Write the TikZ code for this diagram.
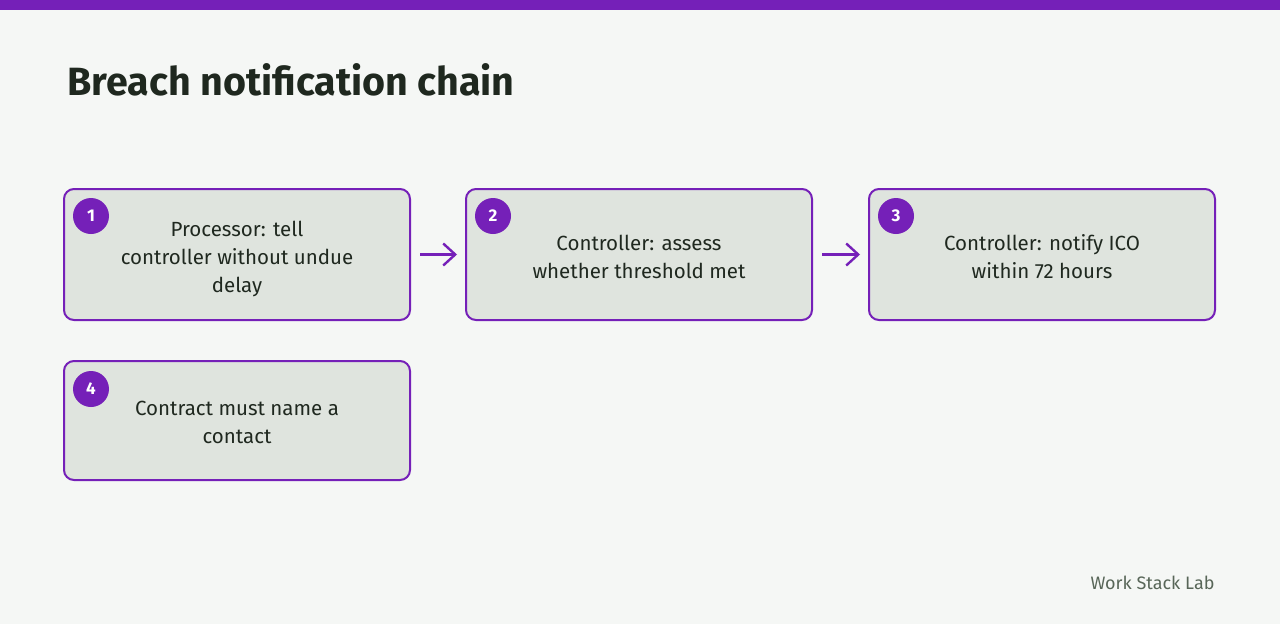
\documentclass[tikz,border=0pt]{standalone}
\usepackage{fontspec}
\setmainfont{Fira Sans}
\usetikzlibrary{arrows.meta, positioning}
\definecolor{chainpurple}{RGB}{117, 32, 184}
\definecolor{pagebg}{RGB}{245, 247, 245}
\definecolor{boxfill}{RGB}{223, 228, 222}
\definecolor{inkdark}{RGB}{31, 40, 31}
\definecolor{footgray}{RGB}{88, 102, 88}

\begin{document}
\begin{tikzpicture}[x=1pt, y=-1pt,
  stepbox/.style={draw=chainpurple, line width=2pt, fill=boxfill, rounded corners=10pt,
    minimum width=346pt, minimum height=131pt, inner sep=0pt},
  steptext/.style={align=center, text=inkdark, font=\fontsize{20.5}{28}\selectfont, inner sep=0pt},
  badge/.style={circle, fill=chainpurple, minimum size=36pt, inner sep=0pt, text=white,
    font=\fontsize{17}{17}\selectfont\bfseries},
  chainarrow/.style={-{Straight Barb[length=12pt, width=22pt]}, line width=2.4pt, chainpurple}]
  \useasboundingbox (0,0) rectangle (1280,624);
  \fill[pagebg] (0,0) rectangle (1280,624);
  \fill[chainpurple] (0,0) rectangle (1280,10);

  \node[anchor=base west, text=inkdark, font=\fontsize{39.4}{40}\selectfont\bfseries] (title) at (64,95) {Breach notification chain};

  % boxes
  \node[stepbox] (s1) at (237,254.5) {};
  \node[stepbox] (s2) at (639,254.5) {};
  \node[stepbox] (s3) at (1042,254.5) {};
  \node[stepbox, minimum height=119pt] (s4) at (237,420.5) {};

  % texts
  \node[steptext] (t1) at ([yshift=-4pt]s1.center) {Processor: tell\\controller without undue\\delay\vphantom{l}};
  \node[steptext] (t2) at ([yshift=-4pt]s2.center) {Controller: assess\\whether threshold met\vphantom{y}};
  \node[steptext] (t3) at ([yshift=-4pt]s3.center) {Controller: notify ICO\\within 72 hours\vphantom{y}};
  \node[steptext] (t4) at ([yshift=-4pt]s4.center) {Contract must name a\\contact\vphantom{y}};

  \node[badge] (b1) at (91,216) {1};
  \node[badge] (b2) at (493,216) {2};
  \node[badge] (b3) at (896,216) {3};
  \node[badge] (b4) at (91,389) {4};

  \draw[chainarrow] ([xshift=9pt]s1.east) -- ([xshift=-8pt]s2.west);
  \draw[chainarrow] ([xshift=9pt]s2.east) -- ([xshift=-8pt]s3.west);

  \node[anchor=base east, text=footgray, font=\fontsize{18}{18}\selectfont] (foot) at (1218,589) {Work Stack Lab};
\end{tikzpicture}
\end{document}
